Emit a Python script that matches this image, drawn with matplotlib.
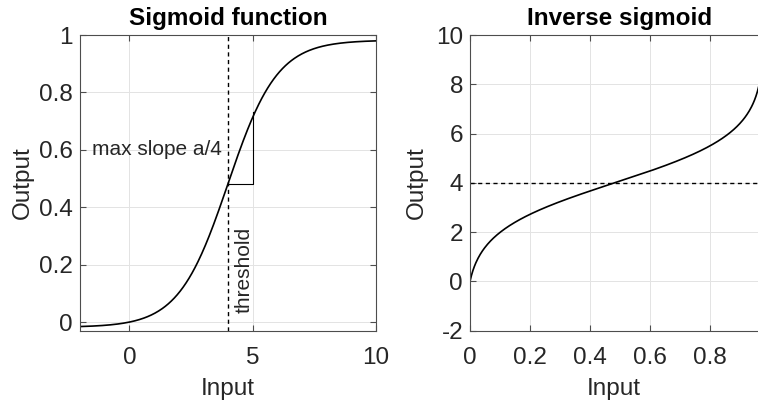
import numpy as np
import matplotlib.pyplot as plt

plt.rcParams['font.family'] = ['Liberation Sans', 'DejaVu Sans']
plt.rcParams['axes.unicode_minus'] = False

# sigmoid parameters
slope_a = 1.0
threshold = 4.0
input_range = [-2, 10]

left_xticks = [0, 5, 10]
left_yticks = [0, 0.2, 0.4, 0.6, 0.8, 1]
left_yticklabels = ['0', '0.2', '0.4', '0.6', '0.8', '1']
right_xticks = [0, 0.2, 0.4, 0.6, 0.8]
right_xticklabels = ['0', '0.2', '0.4', '0.6', '0.8']
right_yticks = [-2, 0, 2, 4, 6, 8, 10]


def sigmoid(x):
    # shifted so that sigmoid(0) == 0
    s0 = 1 / (1 + np.exp(slope_a * threshold))
    return 1 / (1 + np.exp(-slope_a * (x - threshold))) - s0


def inv_sigmoid(y):
    s0 = 1 / (1 + np.exp(slope_a * threshold))
    return threshold - np.log(1 / (y + s0) - 1) / slope_a


txt = '#262626'
edge = '#4d4d4d'
fs = 17.5


def style(ax):
    ax.grid(True, color='#e3e3e3', linewidth=0.7)
    ax.set_axisbelow(True)
    for s in ax.spines.values():
        s.set_color(edge)
        s.set_linewidth(0.8)
    ax.tick_params(direction='in', length=4, width=0.8, color=edge,
                   labelsize=fs, labelcolor=txt, top=True, right=True, pad=5)
    ax.tick_params(axis='x', pad=12)


fig = plt.figure(figsize=(7.58, 4.04), dpi=100)

# left: sigmoid
ax1 = fig.add_axes([80 / 758, 73.3 / 404, 296 / 758, 295.7 / 404])
x = np.linspace(input_range[0], input_range[1], 400)
ax1.plot(x, sigmoid(x), color='k', linewidth=1.2)
ax1.axvline(threshold, color='k', linestyle='--', linewidth=1.0, dashes=(3, 2.5))
y_t = sigmoid(threshold)
ax1.plot([threshold, threshold + 1, threshold + 1],
         [y_t, y_t, y_t + slope_a / 4], color='k', linewidth=0.8)
ax1.text(-1.5, 0.6, 'max slope a/4', fontsize=15, color=txt, va='center', ha='left')
ax1.text(4.25, 0.03, 'threshold', fontsize=15, color=txt, rotation=90,
         va='bottom', ha='left')
ax1.set_xlim(input_range)
ax1.set_ylim(-0.03, 1)
ax1.set_xticks(left_xticks)
ax1.set_yticks(left_yticks)
ax1.set_yticklabels(left_yticklabels)
style(ax1)
ax1.set_title('Sigmoid function', fontsize=fs, fontweight='bold', pad=7)
ax1.set_xlabel('Input', fontsize=fs, color=txt)
ax1.set_ylabel('Output', fontsize=fs, color=txt)
ax1.xaxis.set_label_coords(0.5, -0.16)
ax1.yaxis.set_label_coords(-0.155, 0.5)

# right: inverse sigmoid, axes runs past the figure edge
ax2 = fig.add_axes([470 / 758, 73.3 / 404, 300 / 758, 295.7 / 404])
y = np.linspace(0, 0.975, 400)
ax2.plot(y, inv_sigmoid(y), color='k', linewidth=1.2)
ax2.axhline(threshold, color='k', linestyle='--', linewidth=1.0, dashes=(3, 2.5))
ax2.set_xlim(0, 1)
ax2.set_ylim(-2, 10)
ax2.set_xticks(right_xticks)
ax2.set_xticklabels(right_xticklabels)
ax2.set_yticks(right_yticks)
style(ax2)
ax2.set_title('Inverse sigmoid', fontsize=fs, fontweight='bold', pad=7)
ax2.set_xlabel('Input', fontsize=fs, color=txt)
ax2.set_ylabel('Output', fontsize=fs, color=txt)
ax2.xaxis.set_label_coords(0.48, -0.16)
ax2.yaxis.set_label_coords(-0.14, 0.5)

fig.savefig('out.png', dpi=100)
